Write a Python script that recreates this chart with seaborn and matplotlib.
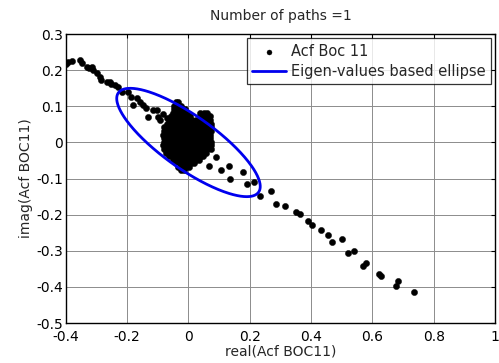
import numpy as np
import pandas as pd
import matplotlib
matplotlib.use("Agg")
import matplotlib.pyplot as plt
import seaborn as sns

# ---------------- data ----------------
title = "Number of paths =1"
x_label = "real(Acf BOC11)"
y_label = "imag(Acf BOC11)"
series_points = "Acf Boc 11"
series_ellipse = "Eigen-values based ellipse"

x_ticks = [-0.4, -0.2, 0, 0.2, 0.4, 0.6, 0.8, 1]
y_ticks = [-0.5, -0.4, -0.3, -0.2, -0.1, 0, 0.1, 0.2, 0.3]

# upper-left tail
tail_up_x = [-0.398, -0.392, -0.381, -0.354, -0.349, -0.332, -0.324, -0.316, -0.311, -0.300,
             -0.289, -0.284, -0.267, -0.256, -0.253, -0.240, -0.229, -0.218, -0.197, -0.186,
             -0.180, -0.169, -0.158, -0.148, -0.139, -0.131, -0.115, -0.104, -0.099, -0.093,
             -0.084, -0.071, -0.061]
tail_up_y = [0.218, 0.223, 0.226, 0.228, 0.221, 0.210, 0.206, 0.210, 0.200, 0.191,
             0.182, 0.173, 0.168, 0.168, 0.162, 0.159, 0.154, 0.140, 0.140, 0.126,
             0.103, 0.122, 0.113, 0.103, 0.095, 0.071, 0.090, 0.090, 0.071, 0.062,
             0.079, 0.067, 0.053]

# lower-right tail
tail_dn_x = [0.090, 0.066, 0.107, 0.132, 0.134, 0.177, 0.190, 0.215, 0.234, 0.270,
             0.284, 0.315, 0.350, 0.365, 0.391, 0.402, 0.433, 0.455, 0.469, 0.501,
             0.522, 0.539, 0.568, 0.580, 0.620, 0.629, 0.678, 0.682, 0.736]
tail_dn_y = [-0.040, -0.065, -0.077, -0.065, -0.102, -0.083, -0.114, -0.109, -0.149, -0.135,
             -0.169, -0.175, -0.192, -0.197, -0.218, -0.229, -0.243, -0.256, -0.275, -0.268,
             -0.307, -0.300, -0.342, -0.334, -0.364, -0.369, -0.397, -0.383, -0.414]

# dense cluster around the origin, row by row (y, list of x)
cluster_rows = [
    (0.112, [-0.041, -0.033]),
    (0.102, [-0.046, -0.035, -0.024]),
    (0.092, [-0.048, -0.036, -0.024, -0.012]),
    (0.082, [-0.052, -0.040, -0.028, -0.016, -0.004, 0.038, 0.050, 0.062]),
    (0.072, [-0.056, -0.044, -0.031, -0.019, -0.006, 0.006, 0.036, 0.048, 0.060, 0.071]),
    (0.062, [-0.062, -0.050, -0.037, -0.025, -0.012, 0.000, 0.012, 0.024, 0.036, 0.048, 0.060, 0.071]),
    (0.052, [-0.070, -0.057, -0.044, -0.032, -0.019, -0.006, 0.006, 0.019, 0.031, 0.043, 0.055, 0.066, 0.075]),
    (0.042, [-0.079, -0.066, -0.053, -0.040, -0.027, -0.014, -0.002, 0.011, 0.024, 0.036, 0.049, 0.062, 0.074]),
    (0.032, [-0.081, -0.068, -0.055, -0.042, -0.029, -0.016, -0.003, 0.010, 0.023, 0.036, 0.049, 0.061, 0.072]),
    (0.022, [-0.083, -0.070, -0.057, -0.044, -0.031, -0.018, -0.005, 0.008, 0.021, 0.034, 0.047, 0.059, 0.070]),
    (0.012, [-0.079, -0.066, -0.053, -0.040, -0.027, -0.014, -0.001, 0.012, 0.025, 0.038, 0.051, 0.063, 0.071]),
    (0.002, [-0.080, -0.067, -0.054, -0.041, -0.028, -0.015, -0.002, 0.011, 0.024, 0.037, 0.050, 0.062, 0.072]),
    (-0.008, [-0.082, -0.069, -0.056, -0.043, -0.030, -0.017, -0.004, 0.009, 0.022, 0.035, 0.048, 0.061, 0.074]),
    (-0.018, [-0.080, -0.067, -0.054, -0.041, -0.028, -0.015, -0.002, 0.011, 0.024, 0.037, 0.050, 0.062, 0.073]),
    (-0.028, [-0.072, -0.059, -0.046, -0.033, -0.020, -0.007, 0.006, 0.019, 0.032, 0.045, 0.056]),
    (-0.038, [-0.063, -0.050, -0.037, -0.024, -0.011, 0.002, 0.015, 0.028, 0.040, 0.048]),
    (-0.048, [-0.052, -0.040, -0.027, -0.014, -0.001, 0.012, 0.024, 0.034]),
    (-0.058, [-0.042, -0.030, -0.017, -0.004, 0.009, 0.018]),
    (-0.068, [-0.033, -0.021, -0.009, 0.002]),
    (-0.076, [-0.026, -0.014]),
]

# covariance-like matrix defining the eigen-value ellipse
ellipse_center = [0.0, 0.0]
ellipse_cov = [[0.0548, -0.0285], [-0.0285, 0.0225]]

# ---------------- build tables ----------------
cl_x, cl_y = [], []
for yv, xs in cluster_rows:
    cl_x.extend(xs)
    cl_y.extend([yv] * len(xs))
pts = pd.DataFrame({"x": tail_up_x + cl_x + tail_dn_x,
                    "y": tail_up_y + cl_y + tail_dn_y})

evals, evecs = np.linalg.eigh(np.array(ellipse_cov))
t = np.linspace(0, 2 * np.pi, 361)
circ = np.vstack([np.cos(t), np.sin(t)])
ell = evecs @ (np.sqrt(evals)[:, None] * circ)
ell_df = pd.DataFrame({"x": ell[0] + ellipse_center[0], "y": ell[1] + ellipse_center[1]})

# ---------------- plot ----------------
sns.set_style("white")
plt.rcParams["font.family"] = ["DejaVu Sans"]

fig = plt.figure(figsize=(4.99, 3.63), dpi=100)
ax = fig.add_axes([0.132, 0.110, 0.860, 0.796])

sns.scatterplot(data=pts, x="x", y="y", ax=ax, color="black", s=20, marker="o",
                edgecolor="black", linewidth=0.3, label=series_points, zorder=3)
sns.lineplot(data=ell_df, x="x", y="y", ax=ax, sort=False, color="#0000ee",
             linewidth=2.0, label=series_ellipse, estimator=None, zorder=4)

ax.set_xlim(-0.4, 1.0)
ax.set_ylim(-0.5, 0.3)
ax.set_xticks(x_ticks)
ax.set_yticks(y_ticks)
ax.set_xticklabels([f"{v:g}" for v in x_ticks])
ax.set_yticklabels([f"{v:g}" for v in y_ticks])
ax.grid(True, color="#8c8c8c", linewidth=0.7, linestyle="-")
ax.set_axisbelow(True)
for sp in ax.spines.values():
    sp.set_visible(True)
    sp.set_color("black")
    sp.set_linewidth(1.0)
ax.tick_params(direction="in", length=3, width=0.8, top=True, right=True,
               labelsize=10, colors="black")
ax.tick_params(axis="x", pad=5)
ax.tick_params(axis="y", pad=2)

ax.set_title(title, fontsize=10, pad=10)
ax.set_xlabel(x_label, fontsize=10, labelpad=0)
ax.set_ylabel(y_label, fontsize=10, labelpad=2)

leg = ax.legend(loc="upper right", fontsize=10.5, frameon=True, fancybox=False,
                edgecolor="black", borderaxespad=0.3, handlelength=2.3,
                borderpad=0.35, labelspacing=0.38, handletextpad=0.35,
                markerscale=0.8)
leg.get_frame().set_linewidth(0.9)

fig.savefig("out.png", dpi=100)
